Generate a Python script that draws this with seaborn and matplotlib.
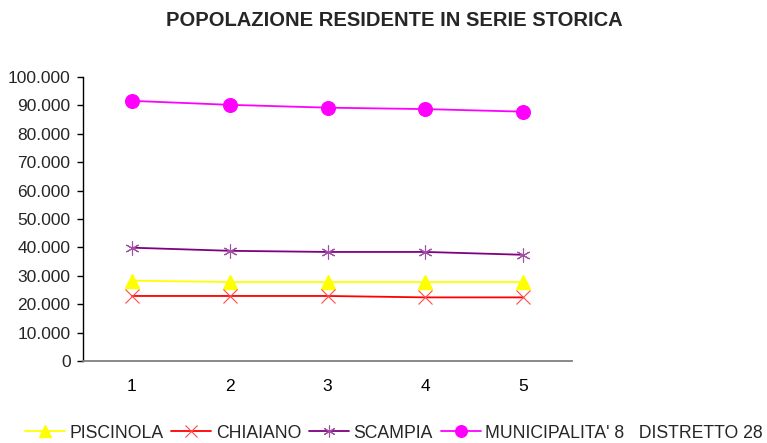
import matplotlib
matplotlib.use("Agg")
import matplotlib.pyplot as plt
import matplotlib.ticker as mticker
from matplotlib.lines import Line2D
import seaborn as sns
import pandas as pd

periods = [1, 2, 3, 4, 5]
piscinola = [28300, 27800, 27800, 27800, 27800]
chiaiano = [22900, 22900, 22900, 22400, 22400]
scampia = [39900, 38800, 38400, 38400, 37400]
municipalita = [91600, 90200, 89200, 88700, 87800]
series_names = ["PISCINOLA", "CHIAIANO", "SCAMPIA", "MUNICIPALITA' 8   DISTRETTO 28"]
y_ticks = [0, 10000, 20000, 30000, 40000, 50000, 60000, 70000, 80000, 90000, 100000]

sns.set_style("white")
plt.rcParams['font.family'] = ['Liberation Sans', 'DejaVu Sans']

fig = plt.figure(figsize=(7.67, 4.43), dpi=100)
ax = fig.add_axes([83/767, 1-361/443, (572-83)/767, (361-77)/443])

styles = [
    (piscinola, "#ffff00", "#ffff00", "^", 10, 1.0),
    (chiaiano, "#ff0000", "#ff4a4a", "x", 9.5, 0.8),
    (scampia, "#800080", "#a050a0", (6, 2, 0), 10, 0.8),
    (municipalita, "#ff00ff", "#ff00ff", "o", 9.8, 1.0),
]
handles = []
for (vals, lc, mc, mk, ms, mew), name in zip(styles, series_names):
    df = pd.DataFrame({"x": periods, "y": vals})
    sns.lineplot(data=df, x="x", y="y", ax=ax, color=lc, marker=mk,
                 markersize=ms, linewidth=1.3, markeredgecolor=mc,
                 markerfacecolor=mc, markeredgewidth=mew)
    handles.append(Line2D([0], [0], color=lc, marker=mk, markersize=ms*0.85,
                          markeredgecolor=mc, markerfacecolor=mc, lw=1.3,
                          markeredgewidth=mew))

ax.set_xlim(0.5, 5.5)
ax.set_ylim(0, 100000)
ax.set_yticks(y_ticks)
ax.yaxis.set_major_formatter(mticker.FuncFormatter(lambda v, p: f"{int(v):,}".replace(",", ".")))
ax.set_xticks(periods)
ax.set_xticklabels([str(p) for p in periods])
ax.set_xticks([0.5, 1.5, 2.5, 3.5, 4.5, 5.5], minor=True)
ax.tick_params(axis="x", which="major", length=0, pad=13, labelsize=12.5, colors="black")
ax.tick_params(axis="x", which="minor", length=5, width=1, color="#808080", direction="out")
ax.tick_params(axis="y", which="major", length=4, width=1, color="black", direction="out",
               labelsize=12.5, pad=5, left=True)
ax.set_xlabel("")
ax.set_ylabel("")
for s in ["top", "right"]:
    ax.spines[s].set_visible(False)
ax.spines["left"].set_color("black")
ax.spines["left"].set_linewidth(1)
ax.spines["bottom"].set_color("#808080")
ax.spines["bottom"].set_linewidth(1.3)
if ax.get_legend():
    ax.get_legend().remove()

fig.text(394/767, 1-20/443, "POPOLAZIONE RESIDENTE IN SERIE STORICA", ha="center", va="center",
         fontsize=14.5, fontweight="bold")

fig.legend(handles, series_names, loc="center", bbox_to_anchor=(394/767, 1-433/443), ncol=4,
           frameon=False, fontsize=12.7, handlelength=2.27, columnspacing=0.45,
           handletextpad=0.25, borderpad=0, borderaxespad=0)

fig.savefig("out.png", dpi=100, facecolor="white")
